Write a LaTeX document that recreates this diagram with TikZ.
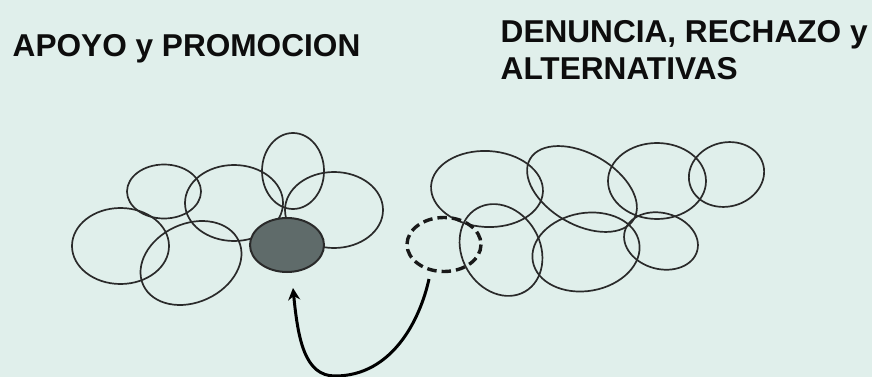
\documentclass[tikz,border=0pt]{standalone}
\usepackage{fontspec}
\setmainfont{Liberation Sans}
\usetikzlibrary{arrows.meta}
\definecolor{bgc}{HTML}{E0EFEB}
\definecolor{inkc}{HTML}{2A2A2A}
\definecolor{greyc}{HTML}{5F6B6A}
\tikzset{x=1pt,y=-1pt,
 blob/.style={draw=inkc,line width=1.7pt},
 dashblob/.style={draw=black!90,line width=3.4pt,dash pattern=on 9.5pt off 5pt},
 head/.style={font=\bfseries\fontsize{31.6}{37}\selectfont,anchor=north west,align=left,inner sep=0pt,text=black!95}}
\newcommand{\blobat}[5]{\draw[blob] (#1,#2) circle[x radius=#3,y radius=#4,rotate=#5];}
\begin{document}
\begin{tikzpicture}
\useasboundingbox (0,0) rectangle (872,377);
\fill[bgc] (0,0) rectangle (872,377);
\node[head] (t1) at (12.5,34) {APOYO y PROMOCION};
\node[head] (t2) at (500.5,20.5) {DENUNCIA, RECHAZO y\\ALTERNATIVAS};
\blobat{120.5}{246}{48.5}{38}{0}
\blobat{164}{191.5}{37}{27}{0}
\blobat{234}{203}{49}{38}{0}
\blobat{293}{171}{31}{38}{0}
\blobat{334}{210}{49}{38}{0}
\blobat{191}{263}{52.6}{39.3}{25}
\draw[blob,fill=greyc,line width=2pt] (287,245) circle[x radius=37,y radius=27];
\blobat{487}{189}{56}{38}{-3}
\blobat{582}{189}{60}{35.5}{-30}
\blobat{657}{181}{49}{38}{0}
\blobat{726.5}{174.5}{38}{32}{15}
\blobat{501}{250}{48}{39}{-60}
\blobat{586}{252}{54}{39}{10}
\blobat{661}{241}{37.5}{28}{-15}
\draw[dashblob] (444,244.5) circle[x radius=37,y radius=27];
\coordinate (a) at (429,279);
\coordinate (b) at (293,288);
\draw[line width=3pt,black,-{Stealth[length=12pt,width=12pt]}] (a) .. controls (420,320) and (392,376) .. (335,376) .. controls (305,376) and (298,340) .. (b);
\end{tikzpicture}
\end{document}
